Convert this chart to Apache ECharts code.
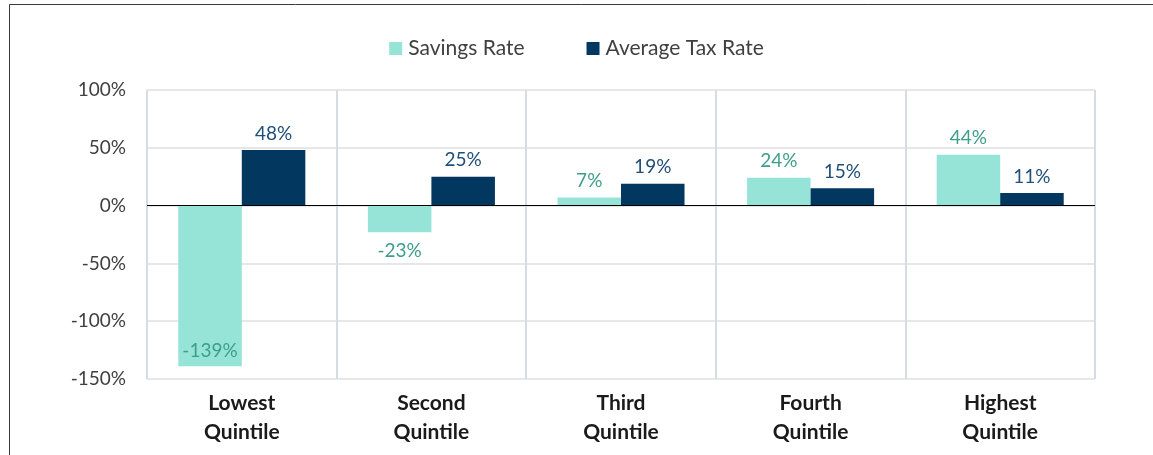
<!DOCTYPE html>
<html>
<head>
<meta charset="utf-8">
<script src="https://cdn.jsdelivr.net/npm/echarts@6/dist/echarts.min.js"></script>
<style>
html,body{margin:0;padding:0;background:#fff;}
#chart{width:1153px;height:455px;}
</style>
</head>
<body>
<div id="chart"></div>
<script>
const categories = ['Lowest\nQuintile', 'Second\nQuintile', 'Third\nQuintile', 'Fourth\nQuintile', 'Highest\nQuintile'];
const savingsRate = [-139, -23, 7, 24, 44];
const averageTaxRate = [48, 25, 19, 15, 11];
const yTicks = [-150, -100, -50, 0, 50, 100];

const FONT = 'Lato, "Open Sans", sans-serif';
const chart = echarts.init(document.getElementById('chart'), null, {renderer: 'canvas'});

const savingsData = savingsRate.map((v, i) => {
  let label;
  if (v < -100) label = {position: 'insideBottom', distance: 6};
  else if (v < 0) label = {position: 'bottom', distance: 9};
  else label = {position: 'top', distance: 7};
  return {value: v, label: label};
});

chart.setOption({
  animation: false,
  backgroundColor: '#fff',
  graphic: [{
    type: 'rect',
    shape: {x: 9.5, y: 4.5, width: 1200, height: 500},
    style: {fill: 'none', stroke: '#3a3a3a', lineWidth: 1},
    silent: true, z: 100
  }],
  legend: {
    top: 33,
    left: 'center',
    itemWidth: 13,
    itemHeight: 13,
    itemGap: 62,
    icon: 'rect',
    textStyle: {fontFamily: FONT, fontSize: 21, color: '#404040', padding: [0, 0, 0, 1]},
    data: ['Savings Rate', 'Average Tax Rate']
  },
  grid: {left: 147, right: 58, top: 90, bottom: 76, containLabel: false},
  xAxis: {
    type: 'category',
    data: categories,
    axisLine: {show: false},
    axisTick: {show: false},
    splitLine: {show: true, lineStyle: {color: '#D3DDE3', width: 2}},
    axisLabel: {
      fontFamily: FONT, fontSize: 21, fontWeight: 'bold', color: '#1a1a1a',
      lineHeight: 29, margin: 10
    }
  },
  yAxis: {
    type: 'value',
    min: yTicks[0],
    max: yTicks[yTicks.length - 1],
    interval: 50,
    axisLine: {show: false},
    axisTick: {show: false},
    splitLine: {show: true, lineStyle: {color: '#DCDFE2', width: 1.5}},
    axisLabel: {
      formatter: '{value}%', fontFamily: FONT, fontSize: 19, color: '#404040', margin: 21
    }
  },
  series: [
    {
      name: 'Savings Rate',
      type: 'bar',
      data: savingsData,
      barGap: '0%',
      barCategoryGap: '33%',
      itemStyle: {color: '#95E4D7'},
      label: {show: true, formatter: '{c}%', fontFamily: FONT, fontSize: 19, color: '#3E9E8C'},
      markLine: {
        silent: true,
        symbol: 'none',
        label: {show: false},
        lineStyle: {color: '#000', width: 1.2, type: 'solid'},
        data: [{yAxis: 0}],
        z: 10
      }
    },
    {
      name: 'Average Tax Rate',
      type: 'bar',
      data: averageTaxRate,
      barGap: '0%',
      barCategoryGap: '33%',
      itemStyle: {color: '#02375F'},
      label: {show: true, position: 'top', distance: 7, formatter: '{c}%', fontFamily: FONT, fontSize: 19, color: '#1F4E79'}
    }
  ]
});
</script>
</body>
</html>
